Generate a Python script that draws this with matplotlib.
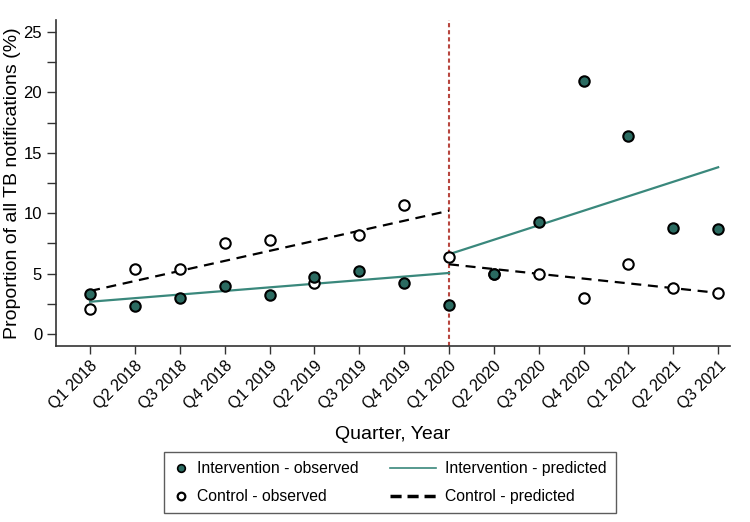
import numpy as np
import matplotlib.pyplot as plt
from matplotlib.lines import Line2D
from matplotlib.legend_handler import HandlerBase

plt.rcParams['font.family'] = ['Liberation Sans', 'DejaVu Sans']

quarters = ['Q1 2018', 'Q2 2018', 'Q3 2018', 'Q4 2018', 'Q1 2019', 'Q2 2019',
            'Q3 2019', 'Q4 2019', 'Q1 2020', 'Q2 2020', 'Q3 2020', 'Q4 2020',
            'Q1 2021', 'Q2 2021', 'Q3 2021']
intervention_obs = [3.3, 2.3, 3.0, 4.0, 3.2, 4.7, 5.2, 4.2, 2.4,
                    5.0, 9.3, 20.9, 16.4, 8.8, 8.7]
control_obs = [2.1, 5.4, 5.4, 7.5, 7.8, 4.2, 8.2, 10.7, 6.4,
               5.0, 5.0, 3.0, 5.8, 3.8, 3.4]

# predicted segments: (start index, end index, start value, end value)
intervention_pred = [(0, 8, 2.67, 5.05), (8, 14, 6.6, 13.8)]
control_pred = [(0, 8, 3.56, 10.2), (8, 14, 5.77, 3.4)]
break_idx = 8

teal_dot = '#2b6b61'
teal_line = '#3a887c'


class LongLine(HandlerBase):
    # legend line that reaches to the left of the (short) handle box
    def __init__(self, length):
        super().__init__()
        self.length = length

    def create_artists(self, legend, orig_handle, xdescent, ydescent,
                       width, height, fontsize, trans):
        y = height / 2 - ydescent
        x1 = width - xdescent
        line = Line2D([x1 - self.length, x1], [y, y])
        self.update_prop(line, orig_handle, legend)
        line.set_transform(trans)
        return [line]


fig = plt.figure(figsize=(7.5, 5.22), dpi=100)
ax = fig.add_axes([0.0747, 0.337, 0.899, 0.625])

x = np.arange(len(quarters))

for i0, i1, v0, v1 in control_pred:
    ax.plot([i0, i1], [v0, v1], color='black', lw=1.6, ls=(0, (4.5, 3)), zorder=2)
for i0, i1, v0, v1 in intervention_pred:
    ax.plot([i0, i1], [v0, v1], color=teal_line, lw=1.6, zorder=2)

ax.axvline(break_idx, color='#b8463f', lw=1.5, ls=(0, (2, 1.4)), zorder=1)

ax.plot(x, control_obs, 'o', ms=7.5, mfc='white', mec='black', mew=1.5, zorder=3)
ax.plot(x, intervention_obs, 'o', ms=7.5, mfc=teal_dot, mec='black', mew=1.5, zorder=4)

ax.set_xlim(-0.76, 14.27)
ax.set_ylim(-1, 26)
ax.set_xticks(x)
ax.set_xticklabels(quarters, rotation=45, ha='right', rotation_mode='anchor', fontsize=11.5)
ax.set_yticks([0, 5, 10, 15, 20, 25])
ax.set_yticks([2.5, 7.5, 12.5, 17.5, 22.5], minor=True)
ax.tick_params(axis='y', which='both', labelsize=12, length=6.5, width=1, color='#333333')
ax.tick_params(axis='x', length=5.5, width=1, color='#333333', pad=3)

for s in ['top', 'right']:
    ax.spines[s].set_visible(False)
for s in ['left', 'bottom']:
    ax.spines[s].set_color('#333333')
    ax.spines[s].set_linewidth(1.2)

ax.set_ylabel('Proportion of all TB notifications (%)', fontsize=14, labelpad=2)
ax.set_xlabel('Quarter, Year', fontsize=14, labelpad=10)

h_int_obs = Line2D([], [], ls='none', marker='o', ms=5.5, mfc=teal_dot, mec='black', mew=1.2)
h_ctl_obs = Line2D([], [], ls='none', marker='o', ms=5.5, mfc='white', mec='black', mew=1.6)
h_int_pred = Line2D([], [], color=teal_line, lw=1.2)
h_ctl_pred = Line2D([], [], color='black', lw=2.5, ls=(0, (3.2, 1.7)))
handles = [h_int_obs, h_ctl_obs, h_int_pred, h_ctl_pred]
labels = ['Intervention - observed', 'Control - observed',
          'Intervention - predicted', 'Control - predicted']
leg = fig.legend(handles, labels, ncol=2, loc='upper center',
                 bbox_to_anchor=(0.52, 0.134), fontsize=11.3, frameon=True,
                 fancybox=False, edgecolor='#333333', handlelength=0.9,
                 columnspacing=4.0, borderpad=0.6, labelspacing=0.8,
                 handletextpad=0.6, borderaxespad=0,
                 handler_map={h_int_pred: LongLine(32.5), h_ctl_pred: LongLine(32.5)})
leg.get_frame().set_linewidth(1.0)

fig.savefig('out.png', dpi=100)
